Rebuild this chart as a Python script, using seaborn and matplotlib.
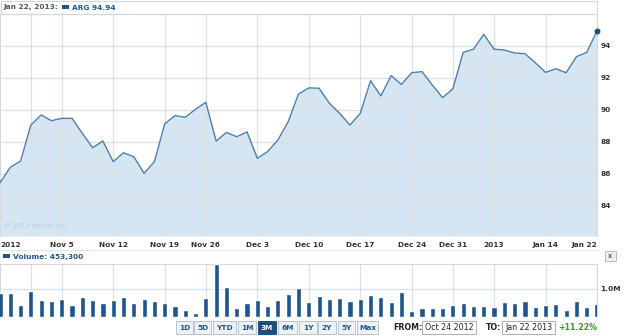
import matplotlib
matplotlib.use("Agg")
import matplotlib.pyplot as plt
import seaborn as sns
import pandas as pd
from matplotlib.patches import Rectangle

# ---------------- data ----------------
price = [85.45, 86.42, 86.81, 89.06, 89.69, 89.33, 89.48, 89.48, 88.54, 87.64,
         88.06, 86.77, 87.33, 87.08, 86.04, 86.77, 89.13, 89.65, 89.54, 90.05,
         90.48, 88.06, 88.60, 88.33, 88.63, 86.98, 87.40, 88.13, 89.27, 91.00,
         91.38, 91.36, 90.42, 89.79, 89.06, 89.79, 91.83, 90.88, 92.15, 91.60,
         92.33, 92.40, 91.56, 90.77, 91.33, 93.60, 93.80, 94.73, 93.80, 93.75,
         93.56, 93.52, 92.96, 92.35, 92.58, 92.33, 93.33, 93.60, 94.94]
volume_m = [0.84, 0.84, 0.41, 0.93, 0.61, 0.55, 0.64, 0.41, 0.72, 0.59,
            0.48, 0.59, 0.72, 0.51, 0.64, 0.55, 0.48, 0.39, 0.24, 0.13,
            0.67, 1.90, 1.07, 0.30, 0.51, 0.59, 0.39, 0.59, 0.82, 1.02,
            0.52, 0.76, 0.63, 0.67, 0.57, 0.65, 0.77, 0.71, 0.54, 0.88,
            0.21, 0.30, 0.30, 0.30, 0.42, 0.51, 0.39, 0.39, 0.34, 0.53,
            0.48, 0.55, 0.34, 0.42, 0.45, 0.23, 0.55, 0.34, 0.4533]
day_index = list(range(len(price)))

label_pos = [0, 6, 11, 16, 20, 25, 30, 35, 40, 44, 48, 53, 58]
label_txt = ["2012", "Nov 5", "Nov 12", "Nov 19", "Nov 26", "Dec 3", "Dec 10",
             "Dec 17", "Dec 24", "Dec 31", "2013", "Jan 14", "Jan 22"]
grid_pos = [3, 6, 11, 16, 20, 25, 30, 35, 40, 44, 48, 53]
price_ticks = [84, 86, 88, 90, 92, 94]
price_tick_labels = ["84", "86", "88", "90", "92", "94"]
vol_ticks = [1.0]
vol_tick_labels = ["1.0M"]
buttons = ["1D", "5D", "YTD", "1M", "3M", "6M", "1Y", "2Y", "5Y", "Max"]
selected_button = "3M"

df = pd.DataFrame({"day": day_index, "price": price, "vol": volume_m})

# ---------------- style ----------------
sns.set_style("white")
plt.rcParams["font.family"] = ["DejaVu Sans"]

LINE = "#4f7fae"
FILL = "#d5e5f1"
GRID = "#d9e0e7"
BAR = "#1d5590"
BLUE_TXT = "#1f5590"
TXT = "#333333"
FS = 5.3

W, H = 625, 336
fig = plt.figure(figsize=(W / 100, H / 100), dpi=100)


def frac(x0, y0, x1, y1):
    return [x0 / W, 1 - y1 / H, (x1 - x0) / W, (y1 - y0) / H]


# ---------------- main price axes ----------------
ax = fig.add_axes(frac(0, 14, 597, 236))
ymin, ymax = 82.125, 96.0
ax.fill_between(df["day"], df["price"], ymin, color=FILL, linewidth=0, zorder=1)
sns.lineplot(data=df, x="day", y="price", ax=ax, color=LINE, linewidth=1.0, zorder=3)
ax.plot(df["day"].iloc[-1:], df["price"].iloc[-1:], "o", color="#1c4f85",
        markersize=3.2, zorder=4, clip_on=False)
ax.set_xlim(0, len(price) - 1)
ax.set_ylim(ymin, ymax)
ax.set_xlabel("")
ax.set_ylabel("")
ax.xaxis.remove_overlapping_locs = False
ax.set_xticks(label_pos)
ax.set_xticklabels(label_txt, fontsize=FS, fontweight="bold", color=TXT)
ax.set_xticks(grid_pos, minor=True)
tl = ax.get_xticklabels()
tl[0].set_ha("left")
tl[-1].set_ha("right")
ax.yaxis.tick_right()
ax.set_yticks(price_ticks)
ax.set_yticklabels(price_tick_labels, fontsize=FS, fontweight="bold", color=TXT)
ax.tick_params(axis="both", which="both", length=0)
ax.tick_params(axis="x", pad=4.5)
ax.tick_params(axis="y", pad=2.5)
ax.grid(False, which="major", axis="x")
ax.grid(True, which="minor", axis="x", color=GRID, linewidth=0.9)
ax.grid(True, which="major", axis="y", color=GRID, linewidth=0.9)
ax.set_axisbelow(False)
for s in ["left", "right", "top"]:
    ax.spines[s].set_color("#d3d9df")
    ax.spines[s].set_linewidth(0.8)
ax.spines["bottom"].set_visible(False)
ax.text(0.007, 0.03, "\u00a9 2013 Yahoo! Inc.", transform=ax.transAxes,
        fontsize=4.8, color="#c3ccd5", ha="left", va="bottom", zorder=5)

# ---------------- volume axes ----------------
axv = fig.add_axes(frac(0, 264, 597, 316.7))
sns.barplot(data=df, x="day", y="vol", ax=axv, color=BAR, saturation=1,
            width=0.5, native_scale=True, zorder=3)
axv.set_xlim(0, len(price) - 1)
axv.set_ylim(0, 1.9)
axv.set_xlabel("")
axv.set_ylabel("")
axv.set_xticks(grid_pos)
axv.set_xticklabels([])
axv.yaxis.tick_right()
axv.set_yticks(vol_ticks)
axv.set_yticklabels(vol_tick_labels, fontsize=FS, fontweight="bold", color=TXT)
axv.tick_params(axis="both", length=0)
axv.tick_params(axis="y", pad=2.5)
axv.grid(True, axis="both", color=GRID, linewidth=0.9, zorder=0)
axv.set_axisbelow(True)
for s in ["left", "right", "top", "bottom"]:
    axv.spines[s].set_color("#d3d9df")
    axv.spines[s].set_linewidth(0.8)
axv.spines["bottom"].set_visible(False)

# ---------------- UI overlay ----------------
ov = fig.add_axes([0, 0, 1, 1])
ov.set_xlim(0, W)
ov.set_ylim(H, 0)
ov.axis("off")
ov.patch.set_alpha(0)

# header band
ov.add_patch(Rectangle((0.5, 0.5), 596.5, 13.5, fill=False, edgecolor="#d3d9df", linewidth=0.8))
ov.text(3, 7.5, "Jan 22, 2013:", fontsize=FS, fontweight="bold", color="#555555", va="center")
ov.add_patch(Rectangle((62, 5.2), 7, 4, color=BLUE_TXT, linewidth=0))
ov.text(72, 7.5, "ARG 94.94", fontsize=FS, fontweight="bold", color=BLUE_TXT, va="center")

# separator above volume
ov.plot([0, 597], [249.5, 249.5], color="#dfe4e9", linewidth=0.8)
ov.add_patch(Rectangle((3, 254.2), 7, 4, color=BLUE_TXT, linewidth=0))
ov.text(13, 256.5, "Volume: 453,300", fontsize=FS, fontweight="bold", color=BLUE_TXT, va="center")
# close box
ov.add_patch(Rectangle((605, 251), 11, 10, facecolor="#eef0f2", edgecolor="#b8bec4", linewidth=0.7))
ov.text(610.5, 256, "x", fontsize=4.8, fontweight="bold", color="#666666", ha="center", va="center")

# range buttons
bx = [176, 194, 213, 238, 258, 278, 299, 318, 338, 357]
bw = [18, 18, 24, 19, 19, 20, 19, 19, 18, 22]
for x0, w, lab in zip(bx, bw, buttons):
    sel = lab == selected_button
    ov.add_patch(Rectangle((x0, 321), w - 1, 12.5,
                           facecolor="#1e4d7c" if sel else "#eef2f5",
                           edgecolor="#1e4d7c" if sel else "#b9c4ce", linewidth=0.7))
    ov.text(x0 + (w - 1) / 2, 327.5, lab, fontsize=FS, fontweight="bold",
            color="white" if sel else BLUE_TXT, ha="center", va="center")

ov.text(393, 327.5, "FROM:", fontsize=FS + 0.4, fontweight="bold", color="#222222", va="center")
ov.add_patch(Rectangle((422, 320.5), 54, 13, facecolor="white", edgecolor="#a9b1b8", linewidth=0.7))
ov.text(425, 327.5, "Oct 24 2012", fontsize=FS + 0.4, color="#222222", va="center")
ov.text(486, 327.5, "TO:", fontsize=FS + 0.4, fontweight="bold", color="#222222", va="center")
ov.add_patch(Rectangle((502, 320.5), 53, 13, facecolor="white", edgecolor="#a9b1b8", linewidth=0.7))
ov.text(505, 327.5, "Jan 22 2013", fontsize=FS + 0.4, color="#222222", va="center")
ov.text(597, 327.5, "+11.22%", fontsize=FS + 0.4, fontweight="bold", color="#3a9a22",
        ha="right", va="center")

fig.savefig("out.png", dpi=100)
